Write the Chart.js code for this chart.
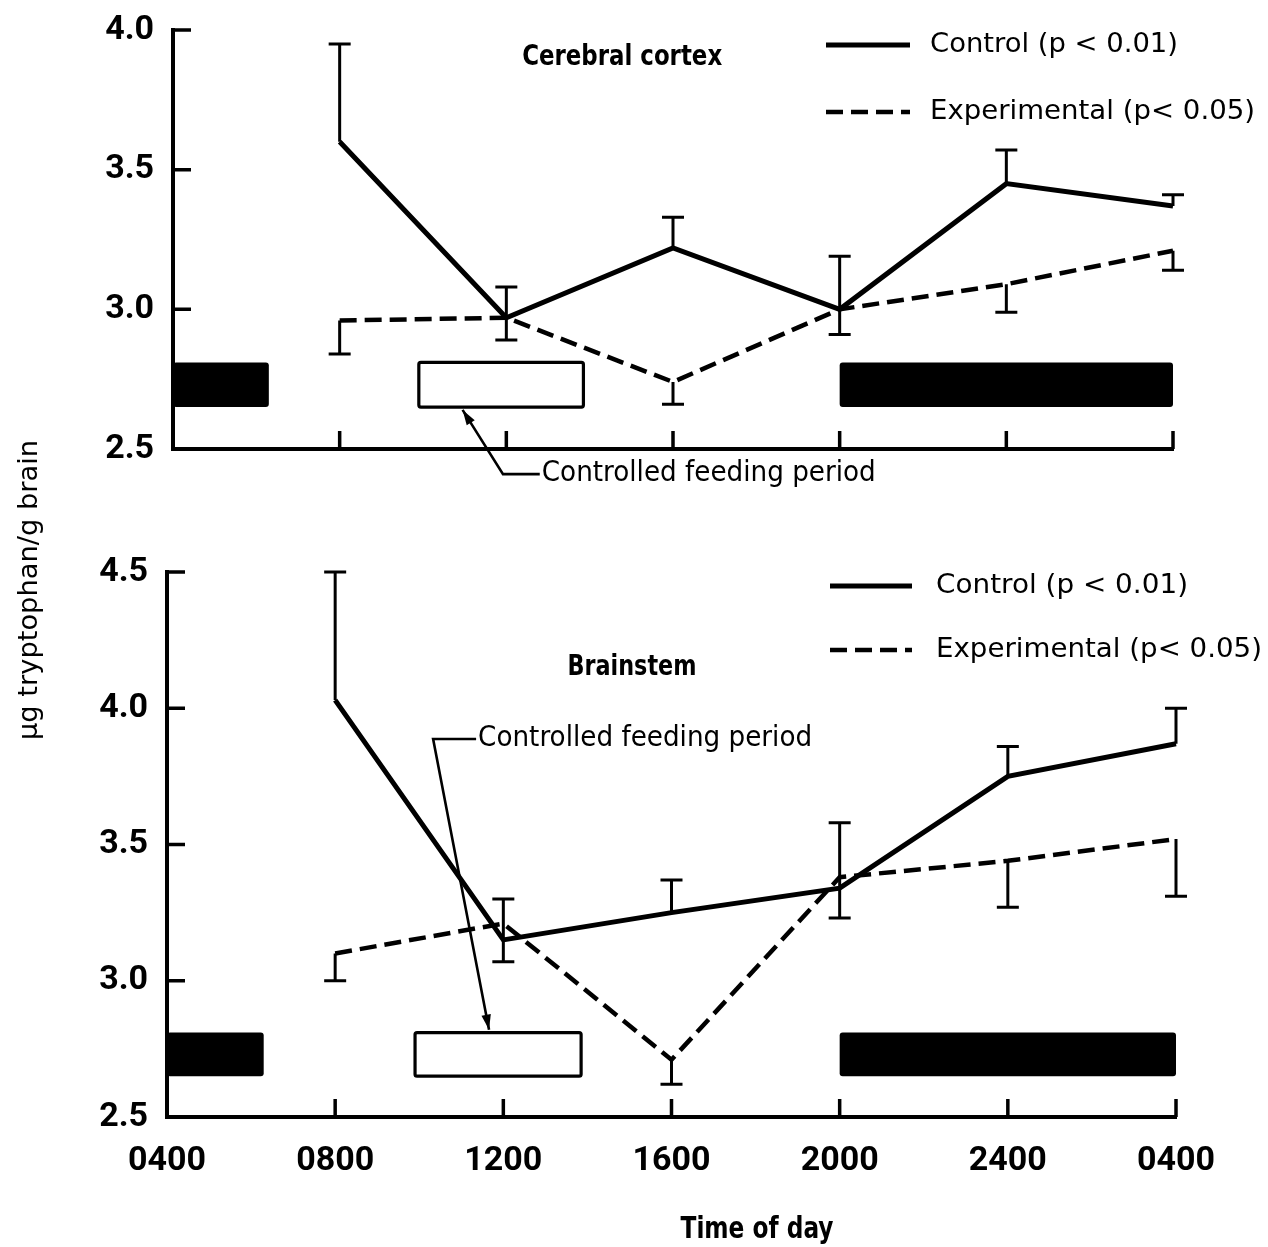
<!DOCTYPE html>
<html>
<head>
<meta charset="utf-8">
<title>Tryptophan in brain regions by time of day</title>
<script src="https://cdn.jsdelivr.net/npm/chart.js@4/dist/chart.umd.min.js"></script>
<style>
  html, body { margin: 0; padding: 0; background: #fff; }
  #wrap { position: relative; width: 1268px; height: 1247px; }
  #wrap canvas { position: absolute; left: 0; top: 0; }
</style>
</head>
<body>
<div id="wrap">
  <canvas id="cortex" width="1268" height="1247"></canvas>
  <canvas id="brainstem" width="1268" height="1247"></canvas>
</div>
<script>
// ---- data ----------------------------------------------------------------
const hours = [8, 12, 16, 20, 24, 28];                 // clock hours, 28 = 0400 next day
const tickHours = [4, 8, 12, 16, 20, 24, 28];
const xTickLabels = ['0400', '0800', '1200', '1600', '2000', '2400', '0400'];

const cortexTicks = [2.5, 3.0, 3.5, 4.0];
const cortexControl = [3.60, 2.97, 3.22, 3.00, 3.45, 3.37];
const cortexControlHigh = [3.95, 3.08, 3.33, 3.19, 3.57, 3.41];
const cortexControlLow = [null, 2.89, null, 2.91, null, null];
const cortexExperimental = [2.96, 2.97, 2.74, 3.00, 3.09, 3.21];
const cortexExperimentalLow = [2.84, null, 2.66, null, 2.99, 3.14];

const brainstemTicks = [2.5, 3.0, 3.5, 4.0, 4.5];
const brainstemControl = [4.03, 3.15, 3.25, 3.34, 3.75, 3.87];
const brainstemControlHigh = [4.50, 3.30, 3.37, 3.58, 3.86, 4.00];
const brainstemControlLow = [null, 3.07, null, 3.23, null, null];
const brainstemExperimental = [3.10, 3.21, 2.71, 3.38, 3.44, 3.52];
const brainstemExperimentalLow = [3.00, null, 2.62, null, 3.27, 3.31];

const darkPeriods = [[4, 6.3], [20, 28]];
const feedingPeriods = [[9.9, 13.85]];
const periodBand = [2.65, 2.81];

const seriesLabels = ['Control (p < 0.01)', 'Experimental (p< 0.05)'];

// ---- drawing helpers -------------------------------------------------------
const NARROW = '"DejaVu Sans Condensed", "DejaVu Sans", sans-serif';
const WIDE = '"DejaVu Sans", sans-serif';
const DIGITS = 'Roboto, "DejaVu Sans Condensed", sans-serif';
const INK = '#000';

const points = vals => hours.map((h, i) => ({ x: h, y: vals[i] }));

// text squeezed horizontally to a given width (when one is given)
function putText(ctx, text, x, y, font, width, align, rotate) {
  ctx.save();
  ctx.font = font;
  ctx.textAlign = align || 'left';
  ctx.textBaseline = 'middle';
  ctx.translate(x, y);
  if (rotate) ctx.rotate(rotate);
  if (width) ctx.scale(width / ctx.measureText(text).width, 1);
  ctx.fillText(text, 0, 0);
  ctx.restore();
}

const periodBars = {
  id: 'periodBars',
  beforeDatasetsDraw(chart, args, o) {
    const { ctx, scales: { x, y } } = chart;
    const top = y.getPixelForValue(o.band[1]);
    const bottom = y.getPixelForValue(o.band[0]);
    ctx.save();
    o.dark.forEach(([a, b]) => {
      const l = x.getPixelForValue(a), r = x.getPixelForValue(b);
      ctx.fillStyle = INK;
      ctx.beginPath();
      ctx.roundRect(l, top, r - l, bottom - top, 3);
      ctx.fill();
    });
    o.feeding.forEach(([a, b]) => {
      const l = x.getPixelForValue(a), r = x.getPixelForValue(b);
      ctx.fillStyle = '#fff';
      ctx.strokeStyle = INK;
      ctx.lineWidth = 3.2;
      ctx.beginPath();
      ctx.roundRect(l, top, r - l, bottom - top, 2);
      ctx.fill();
      ctx.stroke();
    });
    ctx.restore();
  }
};

const errorBars = {
  id: 'errorBars',
  afterDatasetsDraw(chart, args, o) {
    const { ctx, scales: { x, y } } = chart;
    ctx.save();
    ctx.strokeStyle = INK;
    ctx.lineWidth = o.width;
    ctx.setLineDash([]);
    chart.data.datasets.forEach(ds => {
      ds.data.forEach((pt, i) => {
        const cx = x.getPixelForValue(pt.x);
        const cy = y.getPixelForValue(pt.y);
        [ds.errorHigh, ds.errorLow].forEach(arr => {
          if (!arr || arr[i] == null) return;
          const ey = y.getPixelForValue(arr[i]);
          ctx.beginPath();
          ctx.moveTo(cx, cy);
          ctx.lineTo(cx, ey);
          ctx.moveTo(cx - o.cap / 2, ey);
          ctx.lineTo(cx + o.cap / 2, ey);
          ctx.stroke();
        });
      });
    });
    ctx.restore();
  }
};

const innerTicks = {
  id: 'innerTicks',
  afterDraw(chart, args, o) {
    const { ctx, chartArea: ca, scales: { x, y } } = chart;
    ctx.save();
    ctx.strokeStyle = INK;
    ctx.lineWidth = o.width;
    ctx.beginPath();
    x.ticks.forEach(t => {
      if (t.value === x.min) return;
      const p = x.getPixelForValue(t.value);
      ctx.moveTo(p, ca.bottom);
      ctx.lineTo(p, ca.bottom - o.length);
    });
    y.ticks.forEach(t => {
      if (t.value === y.min) return;
      const p = y.getPixelForValue(t.value);
      ctx.moveTo(ca.left, p);
      ctx.lineTo(ca.left + o.length, p);
    });
    ctx.stroke();
    ctx.restore();
  }
};

const panelNotes = {
  id: 'panelNotes',
  afterDraw(chart, args, o) {
    const { ctx, chartArea: ca, scales: { x, y } } = chart;
    ctx.save();
    ctx.fillStyle = INK;
    ctx.strokeStyle = INK;

    // panel heading
    const t = o.title;
    putText(ctx, t.text, x.getPixelForValue(t.at[0]), y.getPixelForValue(t.at[1]),
      `bold ${t.size}px ${NARROW}`, t.width, 'center');

    // legend rows, one per series
    const lg = o.legend;
    chart.data.datasets.forEach((ds, i) => {
      const lx = ca.left + lg.x;
      const ly = ca.top + lg.rows[i];
      ctx.lineWidth = ds.borderWidth;
      ctx.setLineDash(ds.borderDash || []);
      ctx.beginPath();
      ctx.moveTo(lx, ly);
      ctx.lineTo(lx + lg.sample, ly);
      ctx.stroke();
      ctx.setLineDash([]);
      putText(ctx, ds.label, lx + lg.sample + lg.gap, ly, `${lg.size}px ${WIDE}`, lg.widths[i], 'left');
    });

    // "controlled feeding period" call-out with arrow
    const n = o.note;
    const tip = [x.getPixelForValue(n.tip[0]), y.getPixelForValue(n.tip[1])];
    const elbow = [x.getPixelForValue(n.elbow[0]), y.getPixelForValue(n.elbow[1])];
    const tx = x.getPixelForValue(n.textX);
    ctx.lineWidth = 2.6;
    ctx.beginPath();
    ctx.moveTo(tx - 2, elbow[1]);
    ctx.lineTo(elbow[0], elbow[1]);
    ctx.lineTo(tip[0], tip[1]);
    ctx.stroke();
    const ang = Math.atan2(tip[1] - elbow[1], tip[0] - elbow[0]);
    const hl = 16, hw = 0.3;
    ctx.beginPath();
    ctx.moveTo(tip[0], tip[1]);
    ctx.lineTo(tip[0] - hl * Math.cos(ang - hw), tip[1] - hl * Math.sin(ang - hw));
    ctx.lineTo(tip[0] - hl * Math.cos(ang + hw), tip[1] - hl * Math.sin(ang + hw));
    ctx.closePath();
    ctx.fill();
    putText(ctx, n.text, tx, elbow[1], `${n.size}px ${WIDE}`, n.width, 'left');

    // shared axis titles
    (o.labels || []).forEach(l => {
      putText(ctx, l.text, l.x, l.y, l.font, l.width, 'center', l.rotate);
    });
    ctx.restore();
  }
};

function panel(canvasId, cfg) {
  return new Chart(document.getElementById(canvasId), {
    type: 'line',
    data: {
      datasets: [
        {
          label: seriesLabels[0],
          data: points(cfg.control),
          errorHigh: cfg.controlHigh,
          errorLow: cfg.controlLow,
          borderColor: INK,
          borderWidth: 5,
          pointRadius: 0,
          tension: 0,
          fill: false
        },
        {
          label: seriesLabels[1],
          data: points(cfg.experimental),
          errorLow: cfg.experimentalLow,
          borderColor: INK,
          borderWidth: 4.5,
          borderDash: [17, 8],
          pointRadius: 0,
          tension: 0,
          fill: false
        }
      ]
    },
    options: {
      responsive: false,
      animation: false,
      clip: false,
      layout: { padding: cfg.padding },
      plugins: {
        legend: { display: false },
        tooltip: { enabled: false },
        periodBars: { dark: darkPeriods, feeding: feedingPeriods, band: periodBand },
        errorBars: { width: 3, cap: 22 },
        innerTicks: { width: 3.5, length: 18 },
        panelNotes: cfg.notes
      },
      scales: {
        x: {
          type: 'linear',
          min: tickHours[0],
          max: tickHours[tickHours.length - 1],
          afterBuildTicks: s => { s.ticks = tickHours.map(v => ({ value: v })); },
          afterFit: s => { s.height = cfg.xAxisHeight; },
          grid: { display: false, drawTicks: false },
          border: { display: true, color: INK, width: 4 },
          ticks: {
            display: cfg.showHours,
            padding: 24,
            color: INK,
            font: { family: DIGITS, size: 34, weight: 'bold' },
            maxRotation: 0,
            autoSkip: false,
            callback: (v, i) => xTickLabels[i]
          }
        },
        y: {
          min: cfg.ticks[0],
          max: cfg.ticks[cfg.ticks.length - 1],
          afterBuildTicks: s => { s.ticks = cfg.ticks.map(v => ({ value: v })); },
          afterFit: s => { s.width = cfg.yAxisWidth; s.paddingTop = 0; s.paddingBottom = 0; },
          grid: { display: false, drawTicks: false },
          border: { display: true, color: INK, width: 4 },
          ticks: {
            padding: 19,
            color: INK,
            font: { family: DIGITS, size: 34, weight: 'bold' },
            callback: v => v.toFixed(1)
          }
        }
      }
    },
    plugins: [periodBars, errorBars, innerTicks, panelNotes]
  });
}

panel('cortex', {
  control: cortexControl,
  controlHigh: cortexControlHigh,
  controlLow: cortexControlLow,
  experimental: cortexExperimental,
  experimentalLow: cortexExperimentalLow,
  ticks: cortexTicks,
  showHours: false,
  padding: { top: 30, right: 95, bottom: 778, left: 0 },
  xAxisHeight: 20,
  yAxisWidth: 173,
  notes: {
    title: { text: 'Cerebral cortex', at: [14.78, 3.90], size: 29, width: 200 },
    legend: { x: 653, rows: [15, 82], sample: 84, gap: 20, size: 27, widths: [248, 325] },
    note: { text: 'Controlled feeding period', tip: [10.95, 2.64], elbow: [11.92, 2.41], textX: 12.85, size: 28, width: 334 }
  }
});

panel('brainstem', {
  control: brainstemControl,
  controlHigh: brainstemControlHigh,
  controlLow: brainstemControlLow,
  experimental: brainstemExperimental,
  experimentalLow: brainstemExperimentalLow,
  ticks: brainstemTicks,
  showHours: true,
  padding: { top: 572, right: 92, bottom: 0, left: 0 },
  xAxisHeight: 130,
  yAxisWidth: 167,
  notes: {
    title: { text: 'Brainstem', at: [15.06, 4.15], size: 29, width: 129 },
    legend: { x: 663, rows: [14, 78], sample: 82, gap: 24, size: 27, widths: [252, 326] },
    note: { text: 'Controlled feeding period', tip: [11.66, 2.82], elbow: [10.33, 3.887], textX: 11.40, size: 28, width: 334 },
    labels: [
      { text: 'μg tryptophan/g brain', x: 30, y: 590, rotate: -Math.PI / 2, font: `27px ${WIDE}`, width: 300 },
      { text: 'Time of day', x: 757, y: 1230, font: `bold 30px ${NARROW}`, width: 153 }
    ]
  }
});
</script>
</body>
</html>
